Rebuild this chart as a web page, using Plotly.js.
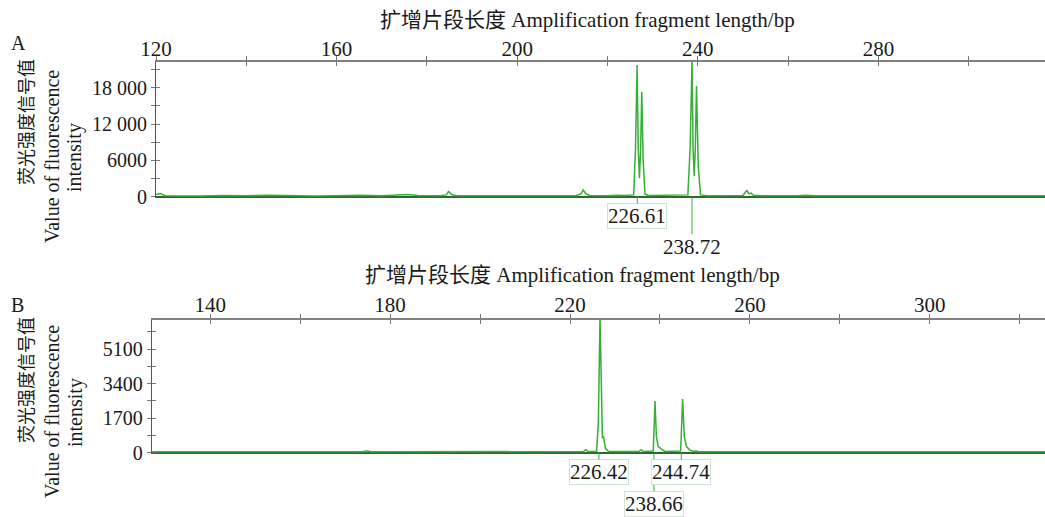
<!DOCTYPE html>
<html>
<head>
<meta charset="utf-8">
<script src="https://cdn.plot.ly/plotly-3.0.1.min.js"></script>
<style>html,body{margin:0;padding:0;background:#fff;}#chart{width:1045px;height:517px;}</style>
</head>
<body>
<div id="chart"></div>
<script>
// ---------- Data ----------
// Panel A: fragment length (bp) and fluorescence intensity
const sizeA = [120, 121, 122, 126, 130, 135, 140, 145, 150, 155, 160, 165, 170, 173.5, 175.8, 178, 183, 184.3, 184.8, 185.5, 186.5, 195, 205, 213, 214.2, 214.6, 215.2, 216, 220, 222, 224, 225.8, 226.2, 226.56, 226.8, 227.07, 227.35, 227.58, 227.9, 228.3, 229, 233, 234, 235.5, 237.8, 238.3, 238.73, 238.95, 239.2, 239.45, 239.71, 240.1, 240.6, 242, 250, 250.6, 250.9, 251.3, 251.8, 252.3, 254, 262, 264, 266, 280, 284, 290, 300, 317];
const valueA = [350, 520, 160, 120, 100, 190, 150, 240, 150, 130, 170, 230, 150, 220, 380, 200, 150, 300, 880, 350, 150, 150, 120, 150, 500, 1100, 500, 200, 150, 250, 200, 300, 8000, 21770, 8000, 3040, 8000, 17350, 6000, 400, 200, 200, 320, 200, 300, 8000, 22600, 8000, 3420, 8000, 18300, 5000, 300, 150, 200, 800, 1000, 500, 600, 250, 150, 150, 220, 150, 160, 220, 150, 150, 150];
const peakLabelsA = [226.61, 238.72];

// Panel B
const sizeB = [127, 131, 133, 135, 140, 150, 160, 170, 174, 174.8, 175.8, 180, 190, 200, 210, 218, 220, 223, 223.5, 224, 225.9, 226.3, 226.67, 227.0, 227.2, 227.45, 227.9, 228.6, 232, 235.3, 235.8, 236.3, 238.5, 238.9, 239.2, 239.6, 240.2, 241.1, 244.6, 245.04, 245.4, 245.9, 246.7, 247.6, 248.0, 248.5, 252, 260, 280, 300, 310, 325.7];
const valueB = [40, 60, 70, 50, 40, 40, 40, 40, 50, 90, 50, 40, 40, 40, 40, 40, 50, 60, 150, 60, 60, 1500, 6700, 1500, 750, 780, 200, 60, 50, 60, 150, 60, 80, 2546, 800, 300, 200, 60, 80, 2645, 800, 300, 120, 60, 90, 50, 40, 40, 40, 40, 40, 40];
const peakLabelsB = [226.42, 238.66, 244.74];

// Axis ticks
const xTicksA = [120, 140, 160, 180, 200, 220, 240, 260, 280, 300];
const xTickTextA = ['120', '', '160', '', '200', '', '240', '', '280', ''];
const yTicksA = [0, 3000, 6000, 9000, 12000, 15000, 18000, 21000];
const yTickTextA = ['0', '', '6000', '', '12 000', '', '18 000', ''];
const xTicksB = [140, 160, 180, 200, 220, 240, 260, 280, 300, 320];
const xTickTextB = ['140', '', '180', '', '220', '', '260', '', '300', ''];
const yTicksB = [0, 850, 1700, 2550, 3400, 4250, 5100, 5950];
const yTickTextB = ['0', '', '1700', '', '3400', '', '5100', ''];

const xTitle = '扩增片段长度 Amplification fragment length/bp';
const yTitleCN = '荧光强度信号值';
const yTitleEN1 = 'Value of fluorescence';
const yTitleEN2 = 'intensity';

// ---------- Styling ----------
const FONT = 'Liberation Serif, "Times New Roman", "Noto Sans CJK SC", serif';
const TXT = '#1a1a1a';
const LINEGREEN = '#35b035';
const W = 1045, H = 517;
const px = v => v / W;
const py = v => 1 - v / H;

const rangeXA = [120, 316.9], rangeYA = [-150, 22320];
const rangeXB = [127, 325.6], rangeYB = [-60, 6540];
const domXA = [px(156), 1], domYA = [py(197.6), py(61.7)];
const domXB = [px(151.7), 1], domYB = [py(453.9), py(320)];

function xAx(range, dom, vals, text, anchor, extra) {
  return Object.assign({
    range: range, domain: dom, side: 'top', anchor: anchor,
    tickmode: 'array', tickvals: vals, ticktext: text,
    ticks: 'outside', ticklen: 4, tickwidth: 1, tickcolor: '#777',
    showline: true, linecolor: '#808080', linewidth: 2,
    showgrid: false, zeroline: false, fixedrange: true,
    tickfont: {family: FONT, size: 21, color: TXT}
  }, extra || {});
}
function yAx(range, dom, vals, text, anchor, extra) {
  return Object.assign({
    range: range, domain: dom, side: 'left', anchor: anchor,
    tickmode: 'array', tickvals: vals, ticktext: text,
    ticks: 'outside', ticklen: 4, tickwidth: 1, tickcolor: '#777',
    showline: true, linecolor: '#555', linewidth: 1,
    showgrid: false, zeroline: true, zerolinecolor: '#2b6a2b', zerolinewidth: 2,
    fixedrange: true,
    tickfont: {family: FONT, size: 20, color: TXT}
  }, extra || {});
}
const innerX = {ticks: 'inside', showticklabels: false, showline: false};
const innerY = {ticks: 'inside', showticklabels: false, showline: false, zeroline: false};

const traces = [
  {x: sizeA, y: valueA, xaxis: 'x', yaxis: 'y', type: 'scatter', mode: 'lines',
   line: {color: LINEGREEN, width: 1.5}, hoverinfo: 'skip'},
  {x: sizeB, y: valueB, xaxis: 'x2', yaxis: 'y2', type: 'scatter', mode: 'lines',
   line: {color: LINEGREEN, width: 1.5}, hoverinfo: 'skip'},
  {x: [null], y: [null], xaxis: 'x3', yaxis: 'y3', type: 'scatter', mode: 'lines', hoverinfo: 'skip'},
  {x: [null], y: [null], xaxis: 'x4', yaxis: 'y4', type: 'scatter', mode: 'lines', hoverinfo: 'skip'}
];

function peakNote(xv, xref, yref, ay, boxed) {
  return {
    x: xv, y: 0, xref: xref, yref: yref, text: xv.toFixed(2),
    showarrow: true, arrowhead: 0, arrowwidth: 1, arrowcolor: LINEGREEN,
    ax: 0, ay: ay, standoff: 0, startstandoff: 0,
    font: {family: FONT, size: 21, color: TXT},
    bordercolor: boxed ? '#cfe5cf' : 'rgba(0,0,0,0)', borderwidth: 1, borderpad: 0,
    bgcolor: boxed ? '#ffffff' : 'rgba(0,0,0,0)'
  };
}
function paperText(text, x, y, size, angle) {
  return {text: text, x: x, y: y, xref: 'paper', yref: 'paper', showarrow: false,
          xanchor: 'center', yanchor: 'middle', textangle: angle || 0,
          font: {family: FONT, size: size, color: TXT}};
}

const annotations = [
  paperText(xTitle, px(587), py(20), 21),
  paperText(xTitle, px(572), py(275), 21),
  paperText('A', px(18), py(43), 20),
  paperText('B', px(17), py(305), 20),
  paperText(yTitleCN, px(27), py(122), 18, -90),
  paperText(yTitleEN1, px(52), py(157), 20, -90),
  paperText(yTitleEN2, px(75), py(158), 20, -90),
  paperText(yTitleCN, px(27), py(380), 18, -90),
  paperText(yTitleEN1, px(52), py(412), 20, -90),
  paperText(yTitleEN2, px(75), py(413), 20, -90),
  peakNote(peakLabelsA[0], 'x', 'y', 19, true),
  peakNote(peakLabelsA[1], 'x', 'y', 50, false),
  peakNote(peakLabelsB[1], 'x2', 'y2', 51, true),
  peakNote(peakLabelsB[0], 'x2', 'y2', 19.5, true),
  peakNote(peakLabelsB[2], 'x2', 'y2', 19.5, true)
];

const layout = {
  width: W, height: H,
  margin: {l: 0, r: 0, t: 0, b: 0},
  paper_bgcolor: '#fff', plot_bgcolor: '#fff',
  showlegend: false,
  font: {family: FONT, color: TXT},
  xaxis: xAx(rangeXA, domXA, xTicksA, xTickTextA, 'y', {ticklabelstandoff: -9}),
  yaxis: yAx(rangeYA, domYA, yTicksA, yTickTextA, 'x'),
  xaxis2: xAx(rangeXB, domXB, xTicksB, xTickTextB, 'y2', {ticklabelstandoff: -6}),
  yaxis2: yAx(rangeYB, domYB, yTicksB, yTickTextB, 'x2'),
  xaxis3: xAx(rangeXA, domXA, xTicksA, xTickTextA, 'y', Object.assign({overlaying: 'x'}, innerX)),
  yaxis3: yAx(rangeYA, domYA, yTicksA, yTickTextA, 'x', Object.assign({overlaying: 'y'}, innerY)),
  xaxis4: xAx(rangeXB, domXB, xTicksB, xTickTextB, 'y2', Object.assign({overlaying: 'x2'}, innerX)),
  yaxis4: yAx(rangeYB, domYB, yTicksB, yTickTextB, 'x2', Object.assign({overlaying: 'y2'}, innerY)),
  annotations: annotations
};

Plotly.newPlot('chart', traces, layout, {staticPlot: true, displayModeBar: false});
</script>
</body>
</html>
